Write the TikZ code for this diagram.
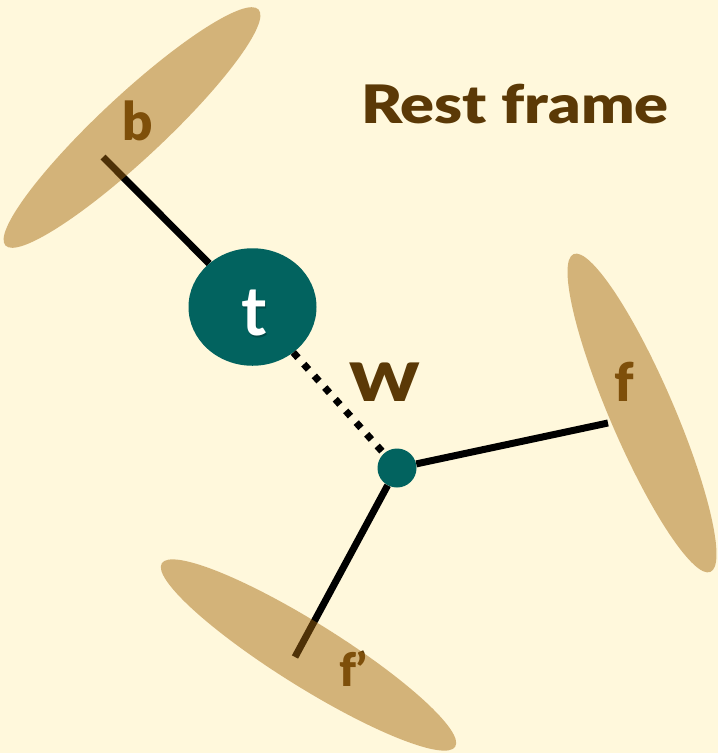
\documentclass[tikz,border=0pt]{standalone}
\usepackage{fontspec}
\setmainfont{Lato}
\newfontfamily\heavy{Lato Black}
\usetikzlibrary{shapes.geometric}
\definecolor{paper}{HTML}{FFF8DC}
\definecolor{jetcol}{HTML}{A5680F}
\definecolor{ink}{HTML}{5B3906}
\definecolor{quark}{HTML}{02635F}
\begin{document}
\begin{tikzpicture}[x=1pt,y=-1pt,
  jetblob/.style={ellipse, draw=none, fill=jetcol, fill opacity=.48,
    minimum width=346pt, minimum height=64pt, inner sep=0pt},
  particle/.style={ellipse, fill=quark, draw=none, inner sep=0pt},
  leg/.style={line width=7pt, line cap=butt},
  lbl/.style={text=ink, font=\heavy\fontsize{53}{53}\selectfont,
    inner sep=0pt, anchor=base}]

% page
\fill[paper] (0,0) rectangle (718,753);
\useasboundingbox (0,0) rectangle (718,753);

% top quark and W vertex
\node[particle, minimum width=128pt, minimum height=117.5pt] (t) at (252.5,307) {};
\node[particle, minimum width=39pt, minimum height=39pt] (w) at (397,468) {};

% free ends of the legs inside the jets
\coordinate (bend) at (103,157);
\coordinate (fend) at (608,423);
\coordinate (fpend) at (295,657);

% legs
\draw[leg] (bend) -- (t);
\draw[leg, dash pattern=on 7pt off 8.7pt] (t) -- (w);
\draw[leg] (w) -- (fend);
\draw[leg] (w) -- (fpend);

% jet labels (under the translucent jets)
\node[lbl] (blbl) at (137.5,140) {b};
\node[lbl] (flbl) at (624,401) {f};
\node[lbl, font=\heavy\fontsize{46}{46}\selectfont] (fplbl) at (353,686) {f’};

% jets
\node[jetblob, rotate=43] (bjet) at (132,127.5) {};
\node[jetblob, rotate=-66.7] (fjet) at (642,413) {};
\node[jetblob, rotate=-32] (fpjet) at (308.5,655) {};

% particle labels
\node[text=black, opacity=.25, inner sep=0pt, anchor=base,
  font=\bfseries\fontsize{68}{68}\selectfont] (tshadow) at (255.5,337) {t};
\node[text=white, inner sep=0pt, anchor=base,
  font=\bfseries\fontsize{68}{68}\selectfont] (tlbl) at (254,335) {t};
\node[lbl, xscale=1.25] (wlbl) at (385,401) {W};
\node[lbl, xscale=1.19] (title) at (515,123) {Rest frame};
\end{tikzpicture}
\end{document}
